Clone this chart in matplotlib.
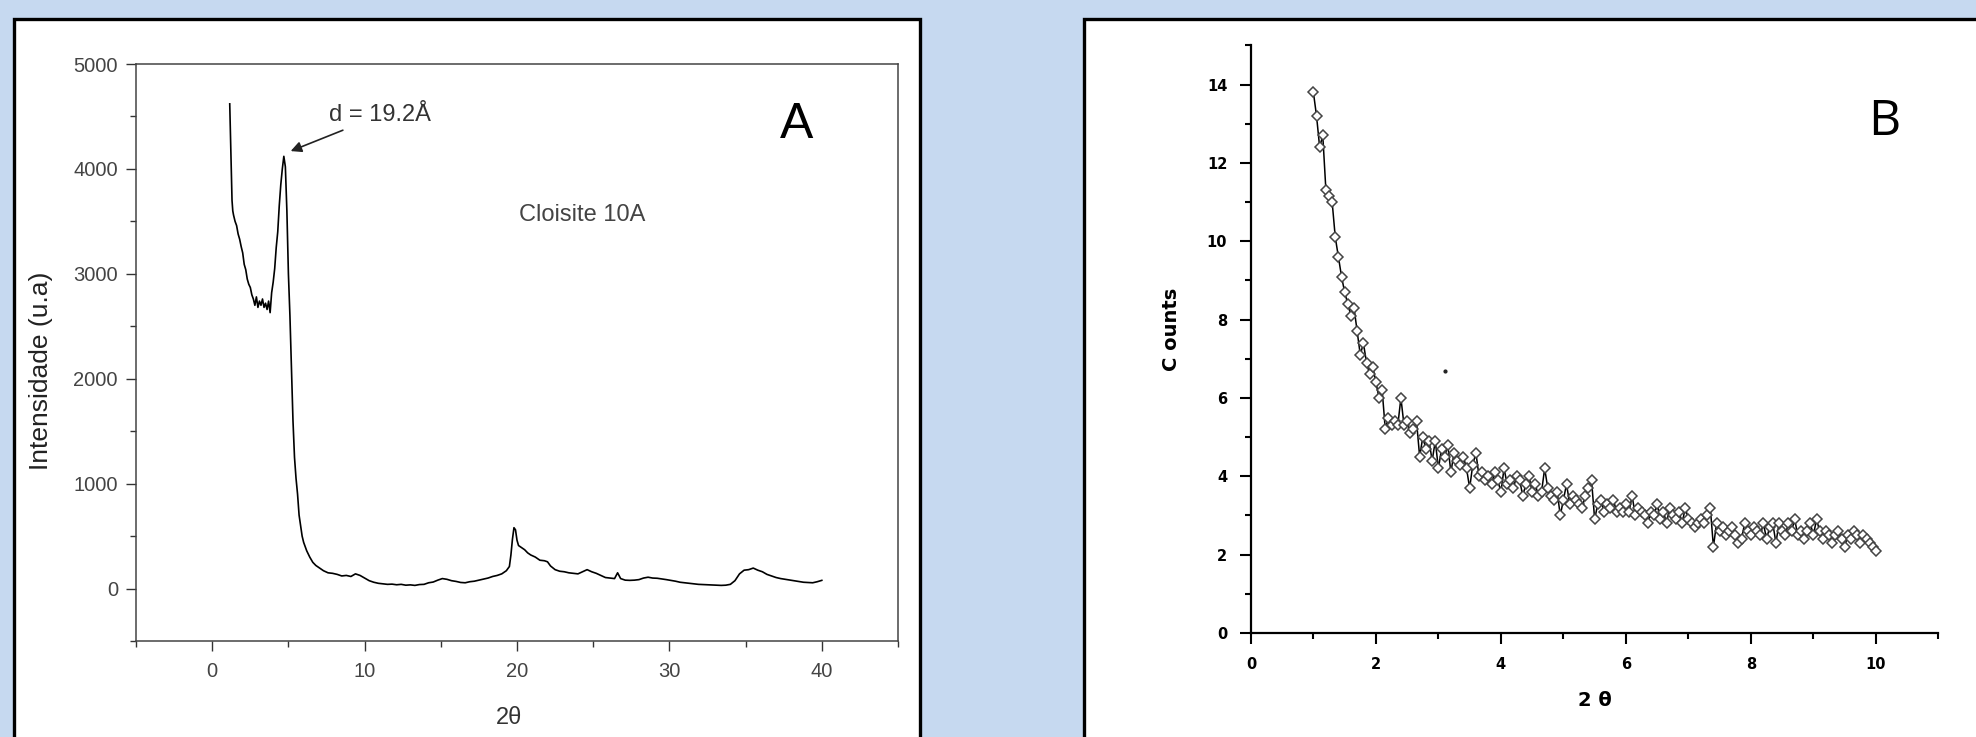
import matplotlib.pyplot as plt
from matplotlib.patches import Rectangle
from matplotlib.ticker import MultipleLocator
import numpy as np

# Panel A - XRD of Cloisite 10A
theta_a = [1.15, 1.2, 1.25, 1.3, 1.35, 1.4, 1.5, 1.6, 1.7, 1.8, 1.9, 2.0, 2.1, 2.2, 2.3, 2.4,
           2.5, 2.6, 2.7, 2.8, 2.9, 3.0, 3.1, 3.2, 3.3, 3.4, 3.5, 3.6, 3.7, 3.8, 3.9, 4.0,
           4.1, 4.2, 4.3, 4.4, 4.5, 4.6, 4.7, 4.8, 4.9, 5.0, 5.1, 5.2, 5.3, 5.4, 5.5, 5.6,
           5.7, 5.8, 5.9, 6.0, 6.2, 6.4, 6.6, 6.8, 7.0, 7.3, 7.6, 7.9, 8.2, 8.5, 8.8, 9.1,
           9.4, 9.7, 10.0, 10.3, 10.6, 10.9, 11.2, 11.5, 11.8, 12.1, 12.4, 12.7, 13.0, 13.3,
           13.6, 13.9, 14.2, 14.5, 14.8, 15.1, 15.4, 15.7, 16.0, 16.3, 16.6, 16.9, 17.2, 17.5,
           17.8, 18.1, 18.4, 18.7, 19.0, 19.3, 19.5, 19.6, 19.7, 19.8, 19.9, 20.0, 20.1, 20.3,
           20.5, 20.7, 20.9, 21.2, 21.5, 21.8, 22.0, 22.2, 22.5, 22.8, 23.1, 23.4, 23.7, 24.0,
           24.3, 24.6, 24.9, 25.2, 25.5, 25.8, 26.1, 26.4, 26.6, 26.8, 27.1, 27.4, 27.7, 28.0,
           28.3, 28.6, 28.9, 29.2, 29.5, 29.8, 30.1, 30.4, 30.7, 31.0, 31.3, 31.6, 31.9, 32.2,
           32.5, 32.8, 33.1, 33.4, 33.7, 34.0, 34.3, 34.6, 34.9, 35.2, 35.5, 35.8, 36.1, 36.4,
           36.7, 37.0, 37.3, 37.6, 37.9, 38.2, 38.5, 38.8, 39.1, 39.4, 39.7, 40.0]
intensity_a = [4620, 4300, 3950, 3700, 3600, 3560, 3500, 3460, 3380, 3330, 3260, 3200, 3090, 3040, 2950, 2900,
               2870, 2800, 2760, 2700, 2780, 2680, 2740, 2700, 2760, 2680, 2720, 2660, 2740, 2630, 2820, 2920,
               3050, 3250, 3400, 3650, 3850, 4000, 4120, 4020, 3600, 3000, 2600, 2100, 1600, 1250, 1050, 900,
               700, 600, 500, 440, 360, 300, 250, 220, 200, 170, 150, 145, 135, 120, 125, 115,
               140, 125, 100, 75, 60, 50, 45, 40, 42, 36, 40, 32, 35, 30,
               38, 40, 55, 62, 80, 95, 88, 75, 68, 58, 55, 65, 70, 80,
               90, 100, 115, 125, 140, 170, 210, 320, 470, 580, 560, 460, 410, 390,
               370, 340, 320, 300, 270, 265, 255, 215, 180, 165, 160, 150, 145, 140,
               160, 180, 160, 145, 125, 105, 100, 95, 150, 95, 80, 78, 80, 85,
               100, 108, 100, 98, 92, 85, 78, 70, 60, 55, 50, 45, 40, 38,
               35, 33, 32, 30, 32, 40, 75, 140, 175, 180, 195, 175, 160, 135,
               120, 105, 95, 88, 80, 75, 68, 60, 58, 55, 65, 78]

# Panel B - counts vs 2 theta, 1.0 to 10.0 in steps of 0.05
counts_b = [13.8, 13.2, 12.4, 12.7, 11.3, 11.15, 11.0, 10.1, 9.6, 9.1,
            8.7, 8.4, 8.1, 8.3, 7.7, 7.1, 7.4, 6.9, 6.6, 6.8,
            6.4, 6.0, 6.2, 5.2, 5.5, 5.3, 5.4, 5.3, 6.0, 5.3,
            5.4, 5.1, 5.2, 5.4, 4.5, 5.0, 4.7, 4.9, 4.4, 4.9,
            4.2, 4.7, 4.5, 4.8, 4.1, 4.6, 4.4, 4.3, 4.5, 4.2,
            3.7, 4.3, 4.6, 4.0, 4.1, 3.9, 4.0, 3.8, 4.1, 3.9,
            3.6, 4.2, 3.8, 3.9, 3.7, 4.0, 3.9, 3.5, 3.8, 4.0,
            3.6, 3.8, 3.5, 3.6, 4.2, 3.7, 3.5, 3.4, 3.6, 3.0,
            3.4, 3.8, 3.3, 3.5, 3.4, 3.3, 3.2, 3.5, 3.7, 3.9,
            2.9, 3.3, 3.4, 3.1, 3.3, 3.2, 3.4, 3.1, 3.2, 3.1,
            3.3, 3.1, 3.5, 3.0, 3.2, 3.1, 3.0, 2.8, 3.1, 3.0,
            3.3, 2.9, 3.1, 2.8, 3.2, 3.0, 2.9, 3.1, 2.8, 3.2,
            2.9, 2.8, 2.7, 2.8, 2.9, 2.8, 3.0, 3.2, 2.2, 2.8,
            2.6, 2.7, 2.5, 2.6, 2.7, 2.5, 2.3, 2.4, 2.8, 2.6,
            2.5, 2.7, 2.6, 2.5, 2.8, 2.4, 2.7, 2.8, 2.3, 2.8,
            2.6, 2.5, 2.8, 2.6, 2.9, 2.5, 2.6, 2.4, 2.6, 2.8,
            2.5, 2.9, 2.6, 2.4, 2.6, 2.5, 2.3, 2.5, 2.6, 2.4,
            2.2, 2.5, 2.4, 2.6, 2.5, 2.3, 2.5, 2.4, 2.3, 2.2,
            2.1]
theta_b = np.linspace(1.0, 10.0, len(counts_b))
stray_b = (3.1, 6.7)

bg = '#c6d9f0'
fig = plt.figure(figsize=(19.76, 7.37), dpi=100, facecolor=bg)

# white framed boxes behind each panel
for x0, w in [(14 / 1976, 906 / 1976), (1084 / 1976, 0.5)]:
    fig.add_artist(Rectangle((x0, -0.05), w, 1.05 - 19 / 737, transform=fig.transFigure,
                             facecolor='white', edgecolor='black', lw=2.4, zorder=-5))

# ---- panel A ----
fa = 'Liberation Sans'
axa = fig.add_axes([0.06883, 0.13026, 0.38563, 0.7829])
axa.plot(theta_a, intensity_a, color='black', lw=1.2)
axa.set_xlim(-5, 45)
axa.set_ylim(-500, 5000)
axa.xaxis.set_major_locator(MultipleLocator(10))
axa.xaxis.set_minor_locator(MultipleLocator(5))
axa.yaxis.set_major_locator(MultipleLocator(1000))
axa.yaxis.set_minor_locator(MultipleLocator(500))
axa.tick_params(which='both', direction='out', color='#333', width=1, top=False, right=False)
axa.tick_params(which='major', length=7)
axa.tick_params(which='minor', length=4)
axa.tick_params(axis='y', pad=6)
axa.tick_params(axis='x', pad=8)
for s in axa.spines.values():
    s.set_color('#444')
    s.set_linewidth(1.1)
for lab in axa.get_xticklabels() + axa.get_yticklabels():
    lab.set_fontfamily(fa)
    lab.set_fontsize(14.5)
    lab.set_color('#444')
axa.set_ylabel('Intensidade (u.a)', fontfamily=fa, fontsize=19, color='#222')
axa.yaxis.set_label_coords(-0.109, 0.468)
axa.set_xlabel('2θ', fontfamily=fa, fontsize=17, color='#333')
axa.xaxis.set_label_coords(0.49, -0.115)
axa.text(24.3, 3560, 'Cloisite 10A', fontfamily=fa, fontsize=17, color='#444',
         ha='center', va='center')
axa.annotate('d = 19.2Å', xy=(5.15, 4170), xytext=(7.66, 4510), fontfamily=fa,
             fontsize=17, color='#333', ha='left', va='center',
             arrowprops=dict(arrowstyle='-|>', color='#222', lw=1.2, mutation_scale=16,
                             shrinkA=2, shrinkB=0))
fig.text(0.4031, 0.83, 'A', fontfamily=fa, fontsize=36, ha='center', va='center')

# ---- panel B ----
axb = fig.add_axes([0.63305, 0.14111, 0.34793, 0.79729])
axb.set_facecolor('none')
axb.plot(theta_b, counts_b, color='black', lw=1.1, marker='D', markersize=5,
         markerfacecolor='white', markeredgecolor='#444', markeredgewidth=1.1)
axb.plot(*stray_b, 'o', color='#222', markersize=2)
axb.set_xlim(0, 11.0)
axb.set_ylim(0, 15)
axb.xaxis.set_major_locator(MultipleLocator(2))
axb.xaxis.set_minor_locator(MultipleLocator(1))
axb.yaxis.set_major_locator(MultipleLocator(2))
axb.yaxis.set_minor_locator(MultipleLocator(1))
axb.spines['top'].set_visible(False)
axb.spines['right'].set_visible(False)
for s in ['left', 'bottom']:
    axb.spines[s].set_linewidth(1.6)
axb.tick_params(which='both', direction='out', width=1.5, pad=9)
axb.tick_params(which='major', length=8)
axb.tick_params(which='minor', length=4.5)
for lab in axb.get_xticklabels() + axb.get_yticklabels():
    lab.set_fontsize(10.5)
    lab.set_fontweight('bold')
axb.set_ylabel('C ounts', fontsize=14, fontweight='bold')
axb.yaxis.set_label_coords(-0.102, 0.517)
axb.set_xlabel('2 θ', fontsize=14, fontweight='bold')
axb.xaxis.set_label_coords(0.5, -0.098)
fig.text(0.9538, 0.8345, 'B', fontfamily='Open Sans', fontsize=36, ha='center', va='center')

plt.savefig('out.png', dpi=100, facecolor=bg)
